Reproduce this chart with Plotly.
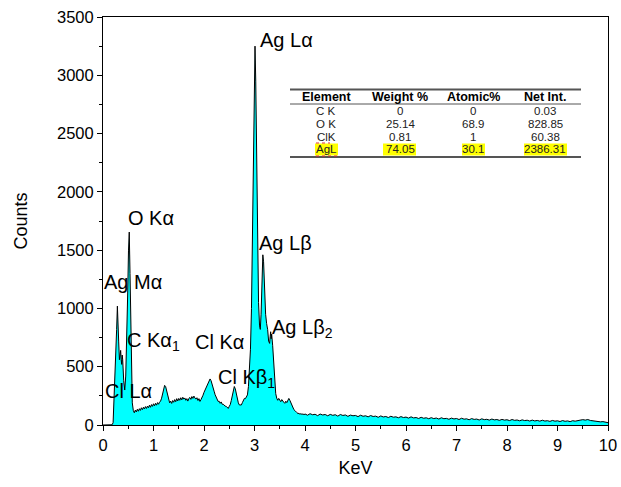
import plotly.graph_objects as go

# ---------------- spectrum data (KeV, Counts) ----------------
low_kev = [0.00, 0.10, 0.18, 0.20, 0.21, 0.22, 0.24, 0.26, 0.27, 0.285,
           0.30, 0.31, 0.325, 0.34, 0.35, 0.36, 0.37, 0.38, 0.39, 0.41,
           0.43, 0.45, 0.47, 0.49, 0.505, 0.52, 0.535, 0.55, 0.565, 0.58]
low_counts = [0, 0, 2, 20, 120, 260, 430, 640, 820, 1020,
              900, 720, 560, 600, 640, 560, 520, 600, 560, 380,
              300, 420, 700, 1150, 1500, 1655, 1300, 800, 400, 190]

mid_kev = [0.60, 0.62, 0.64, 0.66, 0.68, 0.70, 0.72, 0.74, 0.76, 0.78,
           0.80, 0.82, 0.84, 0.86, 0.88, 0.90, 0.92, 0.94, 0.96, 0.98,
           1.00, 1.02, 1.04, 1.06, 1.08, 1.10, 1.12, 1.14, 1.16, 1.18,
           1.20, 1.22, 1.24, 1.26, 1.28, 1.30, 1.32, 1.34, 1.36, 1.38,
           1.40, 1.42, 1.44, 1.46, 1.48, 1.50, 1.52, 1.54, 1.56, 1.58,
           1.60, 1.62, 1.64, 1.66, 1.68, 1.70, 1.72, 1.74, 1.76, 1.78,
           1.80, 1.82, 1.84, 1.86, 1.88, 1.90, 1.92, 1.94, 1.96, 1.98,
           2.00, 2.02, 2.04, 2.06, 2.08, 2.10, 2.12, 2.14, 2.16, 2.18,
           2.20, 2.22, 2.24, 2.26, 2.28, 2.30, 2.32, 2.34, 2.36, 2.38,
           2.40, 2.42, 2.44, 2.46, 2.48, 2.50, 2.52, 2.54, 2.56, 2.58,
           2.60, 2.62, 2.64, 2.66, 2.68, 2.70, 2.72, 2.74, 2.76, 2.78,
           2.80, 2.82, 2.84, 2.86]
mid_counts = [125, 105, 128, 112, 135, 118, 140, 125, 148, 132,
              152, 138, 158, 142, 162, 148, 170, 152, 175, 160,
              182, 165, 186, 170, 192, 178, 196, 205, 230, 270,
              310, 340, 330, 290, 240, 205, 190, 205, 185, 210,
              195, 218, 200, 226, 206, 228, 212, 234, 216, 238,
              222, 232, 212, 226, 205, 228, 236, 220, 244, 228,
              248, 232, 222, 234, 210, 226, 202, 218, 232, 255,
              280, 300, 322, 345, 370, 385, 395, 380, 355, 320,
              290, 260, 240, 218, 202, 204, 186, 198, 178, 178,
              164, 162, 160, 152, 142, 160, 175, 210, 250, 300,
              330, 310, 260, 215, 190, 172, 170, 172, 192, 208,
              228, 226, 244, 258]

ag_kev = [2.88, 2.90, 2.92, 2.94, 2.96, 2.98, 2.995,
          3.01, 3.025, 3.04, 3.06, 3.08, 3.10, 3.115, 3.13, 3.15, 3.165,
          3.18, 3.20, 3.22, 3.24, 3.26, 3.28, 3.30, 3.31, 3.32, 3.33,
          3.34, 3.36, 3.38, 3.40, 3.42, 3.44, 3.46, 3.48, 3.50, 3.52,
          3.54, 3.56, 3.58, 3.60, 3.62, 3.64, 3.66, 3.68, 3.70, 3.72,
          3.74, 3.76, 3.78, 3.80, 3.82, 3.84, 3.86, 3.88, 3.90, 3.92,
          3.94, 3.96, 3.98]
ag_counts = [330, 450, 650, 1000, 1600, 2400, 3000,
             3250, 2950, 2300, 1550, 1050, 850, 820, 950, 1250, 1460,
             1400, 1150, 950, 870, 820, 720, 700, 760, 800, 740,
             780, 680, 560, 380, 270, 230, 212, 228, 206, 200,
             218, 202, 195, 186, 204, 192, 212, 228, 212, 190,
             168, 150, 132, 124, 110, 106, 98, 100, 92, 98,
             90, 96, 88]

high_kev = [4.00, 4.05, 4.10, 4.15, 4.20, 4.25, 4.30, 4.35, 4.40, 4.45,
            4.50, 4.55, 4.60, 4.65, 4.70, 4.75, 4.80, 4.85, 4.90, 4.95,
            5.00, 5.05, 5.10, 5.15, 5.20, 5.25, 5.30, 5.35, 5.40, 5.45,
            5.50, 5.55, 5.60, 5.65, 5.70, 5.75, 5.80, 5.85, 5.90, 5.95,
            6.00, 6.05, 6.10, 6.15, 6.20, 6.25, 6.30, 6.35, 6.40, 6.45,
            6.50, 6.55, 6.60, 6.65, 6.70, 6.75, 6.80, 6.85, 6.90, 6.95,
            7.00, 7.05, 7.10, 7.15, 7.20, 7.25, 7.30, 7.35, 7.40, 7.45,
            7.50, 7.55, 7.60, 7.65, 7.70, 7.75, 7.80, 7.85, 7.90, 7.95,
            8.00, 8.05, 8.10, 8.15, 8.20, 8.25, 8.30, 8.35, 8.40, 8.45,
            8.50, 8.55, 8.60, 8.65, 8.70, 8.75, 8.80, 8.85, 8.90, 8.95,
            9.00, 9.05, 9.10, 9.15, 9.20, 9.25, 9.30, 9.35, 9.40, 9.45,
            9.50, 9.55, 9.60, 9.65, 9.70, 9.75, 9.80, 9.85, 9.90, 9.95,
            10.00]
high_counts = [95, 84, 97, 88, 92, 80, 94, 86, 90, 79,
               91, 83, 88, 76, 90, 82, 86, 74, 85, 79,
               82, 72, 84, 75, 79, 70, 81, 73, 76, 66,
               78, 69, 73, 64, 75, 67, 70, 62, 72, 64,
               68, 59, 70, 61, 64, 56, 66, 58, 62, 54,
               63, 55, 60, 51, 62, 54, 57, 49, 59, 52,
               56, 47, 58, 50, 53, 45, 55, 48, 51, 43,
               53, 46, 49, 42, 51, 44, 47, 40, 48, 42,
               45, 38, 47, 40, 43, 36, 44, 38, 41, 34,
               42, 35, 39, 33, 41, 34, 37, 31, 39, 33,
               36, 30, 38, 32, 35, 29, 37, 33, 38, 40,
               46, 42, 47, 39, 36, 31, 33, 27, 29, 24,
               20]

# ---------------- peak labels ----------------
peak_labels = ["Ag Lα", "O Kα", "Ag Lβ", "Ag Mα", "Ag Lβ<sub>2</sub>",
               "C Kα<sub>1</sub>", "Cl Kα", "Cl Kβ<sub>1</sub>", "Cl Lα"]
label_kev = [3.64, 0.96, 3.62, 0.60, 3.95, 1.00, 2.31, 2.84, 0.50]
label_counts = [3303, 1780, 1560, 1227, 830, 720, 710, 395, 292]

# ---------------- composition table ----------------
table_header = ["Element", "Weight %", "Atomic%", "Net Int."]
table_elements = ["C K", "O K", "ClK", "AgL"]
table_weight = ["0", "25.14", "0.81", "74.05"]
table_atomic = ["0", "68.9", "1", "30.1"]
table_netint = ["0.03", "828.85", "60.38", "2386.31"]

kev = low_kev + mid_kev + ag_kev + high_kev
counts = low_counts + mid_counts + ag_counts + high_counts
assert len(kev) == len(counts)

FONT = "Arial, Liberation Sans, sans-serif"

fig = go.Figure()
fig.add_trace(go.Scatter(
    x=kev, y=counts, mode="lines", fill="tozeroy",
    fillcolor="#00FFFF", line=dict(color="black", width=1),
    hoverinfo="skip", showlegend=False))

annotations = []
for t, xv, yv in zip(peak_labels, label_kev, label_counts):
    annotations.append(dict(x=xv, y=yv, xref="x", yref="y", text=t,
                            xanchor="center", yanchor="middle",
                            showarrow=False, font=dict(family=FONT, size=20, color="black")))

# pixel -> paper helpers (plot area: x 103..608, y 17..425)
def px(xp):
    return (xp - 103) / 505.0

def py(yp):
    return (425 - yp) / 408.0

col_x = [326, 400, 473, 545]
row_y = [111, 124, 137, 149.5]
head_y = 97
for cx, h in zip(col_x, table_header):
    annotations.append(dict(x=px(cx), y=py(head_y), xref="paper", yref="paper",
                            xanchor="center", yanchor="middle",
                            text="<b>%s</b>" % h, showarrow=False,
                            font=dict(family=FONT, size=12.5, color="black")))
columns = [table_elements, table_weight, table_atomic, table_netint]
for cx, col in zip(col_x, columns):
    for ry, val in zip(row_y, col):
        annotations.append(dict(x=px(cx), y=py(ry), xref="paper", yref="paper",
                                xanchor="center", yanchor="middle",
                                text=val, showarrow=False,
                                font=dict(family=FONT, size=11.5, color="#222222")))

shapes = []
# yellow highlights for the AgL row
for x0, x1 in [(315, 338), (383, 416), (462, 485), (524, 567)]:
    shapes.append(dict(type="rect", xref="paper", yref="paper",
                       x0=px(x0), x1=px(x1), y0=py(155.5), y1=py(143.5),
                       fillcolor="#FFFF00", line=dict(width=0), layer="above"))
# table rules
shapes.append(dict(type="line", xref="paper", yref="paper", x0=px(290), x1=px(581),
                   y0=py(89.5), y1=py(89.5), line=dict(color="#555555", width=2)))
shapes.append(dict(type="line", xref="paper", yref="paper", x0=px(290), x1=px(581),
                   y0=py(104), y1=py(104), line=dict(color="#555555", width=1)))
shapes.append(dict(type="line", xref="paper", yref="paper", x0=px(290), x1=px(581),
                   y0=py(157), y1=py(157), line=dict(color="#555555", width=2)))
# red spell-check underlines
for x0, x1, yy in [(316, 330, 143), (316, 338, 156)]:
    shapes.append(dict(type="line", xref="paper", yref="paper", x0=px(x0), x1=px(x1),
                       y0=py(yy), y1=py(yy), line=dict(color="#e03030", width=1, dash="dot")))

fig.update_layout(
    width=621, height=487,
    margin=dict(l=103, r=13, t=17, b=62, autoexpand=False),
    paper_bgcolor="white", plot_bgcolor="white",
    font=dict(family=FONT, color="black"),
    annotations=annotations, shapes=shapes,
    xaxis=dict(range=[0, 10], tickmode="linear", tick0=0, dtick=1, automargin=False,
               ticks="outside", ticklen=5, tickwidth=1, tickcolor="black",
               minor=dict(dtick=0.5, ticks="outside", ticklen=3, tickcolor="black"),
               showline=True, linecolor="black", linewidth=1, mirror=True,
               showgrid=False, zeroline=False,
               tickfont=dict(size=16.5, family=FONT),
               title=dict(text="KeV", font=dict(size=18, family=FONT), standoff=8)),
    yaxis=dict(range=[0, 3500], tickmode="linear", tick0=0, dtick=500, automargin=False,
               ticks="outside", ticklen=5, tickwidth=1, tickcolor="black",
               minor=dict(dtick=250, ticks="outside", ticklen=3, tickcolor="black"),
               showline=True, linecolor="black", linewidth=1, mirror=True,
               showgrid=False, zeroline=False,
               tickfont=dict(size=16.5, family=FONT),
               title=dict(text="Counts", font=dict(size=18, family=FONT), standoff=24)),
)

fig.write_html("out.html", config={"displayModeBar": False},
               post_script="document.body.style.margin='0';document.body.style.padding='0';")
